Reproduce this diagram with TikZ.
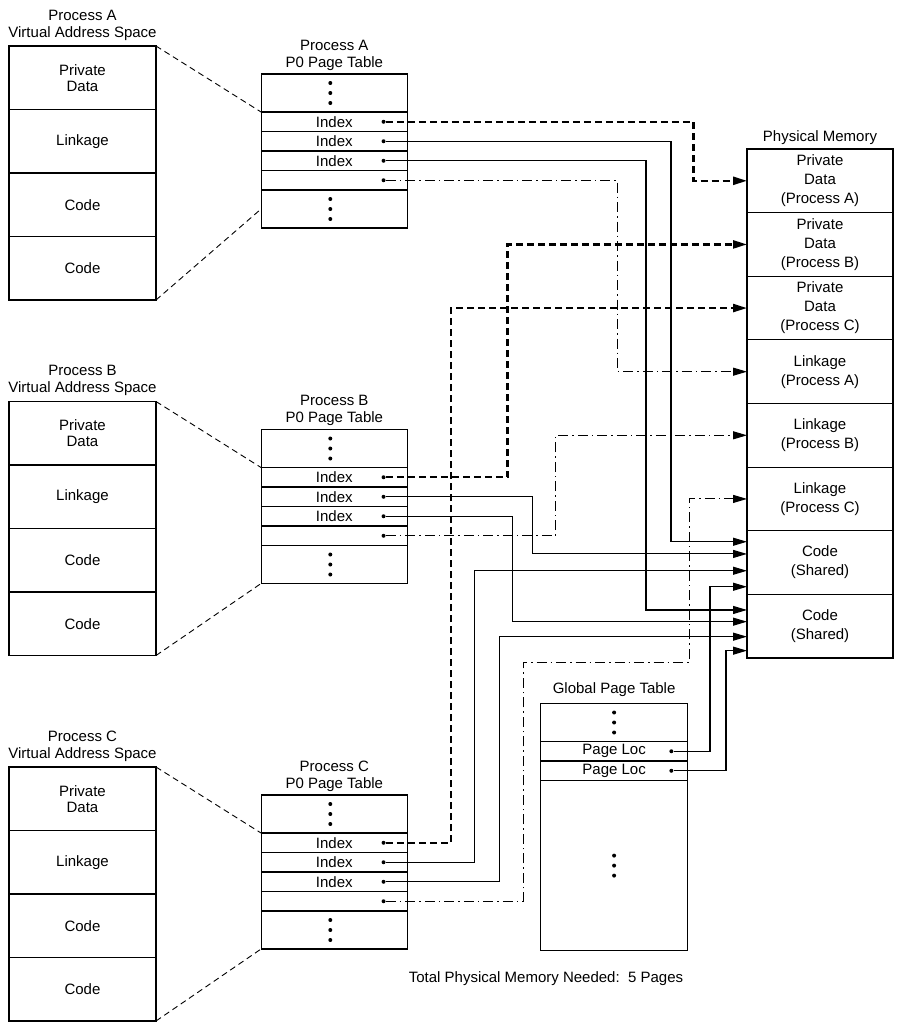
\documentclass[tikz,border=0pt]{standalone}
\usepackage{fontspec}
\setmainfont{Liberation Sans}
\usetikzlibrary{arrows.meta, positioning}

\tikzset{
  box/.style={draw, line width=1.1pt, outer sep=0pt, inner sep=2pt, align=center},
  vasbox/.style={box, minimum width=147pt, minimum height=63.5pt, font=\fontsize{15}{16}\selectfont},
  membox/.style={box, minimum width=146pt, minimum height=63.625pt, font=\fontsize{15}{19}\selectfont},
  tabsec/.style={box, minimum width=146.5pt, minimum height=38pt},
  tabrow/.style={box, minimum width=146.5pt, minimum height=19.5pt, inner sep=0pt},
  title/.style={inner sep=0pt, align=center, font=\fontsize{15}{17}\selectfont},
  dot/.style={circle, fill, inner sep=0pt, minimum size=4pt},
  zoomline/.style={line width=0.9pt, dash pattern=on 6pt off 4pt},
  pdata/.style={line width=2.4pt, dash pattern=on 7pt off 4pt, -{Triangle[length=14pt,width=8pt]}},
  pcode/.style={line width=1.1pt, -{Triangle[length=14pt,width=8pt]}},
  plink/.style={line width=1pt, dash pattern=on 10pt off 4pt on 1.5pt off 4pt, -{Triangle[length=14pt,width=8pt]}},
}

\begin{document}
\begin{tikzpicture}[x=1pt, y=-1pt, font=\fontsize{15}{17}\selectfont]
    \useasboundingbox (0,0) rectangle (902,1026);

    % Three processes: address space and P0 page table
    \foreach \p/\off/\anc in {A/0/west, B/355.5/south west, C/721/south west}{
      \begin{scope}[shift={(0,\off)}]
        \node[vasbox] (vas\p1) at (82.5,77.75) {Private\\Data};
        \node[vasbox, below=0pt of vas\p1] (vas\p2) {Linkage};
        \node[vasbox, below=0pt of vas\p2] (vas\p3) {Code};
        \node[vasbox, below=0pt of vas\p3] (vas\p4) {Code};
        \node[title, above=5.4pt of vas\p1] (vt\p) {Process \p\\Virtual Address Space};

        \node[tabsec] (pt\p0) at (334.3,93) {};
        \node[tabrow, below=0pt of pt\p0] (pt\p1) {Index};
        \node[tabrow, below=0pt of pt\p1] (pt\p2) {Index};
        \node[tabrow, below=0pt of pt\p2] (pt\p3) {Index};
        \node[tabrow, below=0pt of pt\p3] (pt\p4) {};
        \node[tabsec, below=0pt of pt\p4] (pt\p5) {};
        \node[title, above=3.4pt of pt\p0] (tt\p) {Process \p\\P0 Page Table};
        \foreach \s in {0,5}
          \foreach \d in {-10,0,10}
            \fill ([xshift=-4pt, yshift=\d pt]pt\p\s.center) circle (2pt);
        \foreach \r in {1,...,4}
          \node[dot] (d\p\r) at ([xshift=-24pt]pt\p\r.east) {};

        \draw[zoomline] (vas\p1.north east) -- (pt\p1.north west);
        \draw[zoomline] (vas\p4.south east) -- (pt\p5.\anc);
      \end{scope}
    }

    % Physical memory
    \node[membox] (pm1) at (820,180.8) {Private\\Data\\(Process A)};
    \node[membox, below=0pt of pm1] (pm2) {Private\\Data\\(Process B)};
    \node[membox, below=0pt of pm2] (pm3) {Private\\Data\\(Process C)};
    \node[membox, below=0pt of pm3] (pm4) {Linkage\\(Process A)};
    \node[membox, below=0pt of pm4] (pm5) {Linkage\\(Process B)};
    \node[membox, below=0pt of pm5] (pm6) {Linkage\\(Process C)};
    \node[membox, below=0pt of pm6] (pm7) {Code\\(Shared)};
    \node[membox, below=0pt of pm7] (pm8) {Code\\(Shared)};
    \node[title, above=4.4pt of pm1] (pmt) {Physical Memory};

    % Arrow ends on the shared code pages
    \coordinate (in7a) at ([yshift=-11pt]pm7.north west);
    \coordinate (in7b) at ([yshift=-23.2pt]pm7.north west);
    \coordinate (in7c) at ([yshift=-40pt]pm7.north west);
    \coordinate (in7d) at ([yshift=-56pt]pm7.north west);
    \coordinate (in8a) at ([yshift=-15.6pt]pm8.north west);
    \coordinate (in8b) at ([yshift=-27.3pt]pm8.north west);
    \coordinate (in8c) at ([yshift=-42.3pt]pm8.north west);
    \coordinate (in8d) at ([yshift=-56.3pt]pm8.north west);

    % Global page table
    \node[tabsec] (g0) at (614.1,722.5) {};
    \node[tabrow, below=0pt of g0] (g1) {Page Loc};
    \node[tabrow, below=0pt of g1] (g2) {Page Loc};
    \node[tabsec, minimum height=170.2pt, below=0pt of g2] (g3) {};
    \node[title, above=6.5pt of g0] (gt) {Global Page Table};
    \foreach \s in {0,3}
      \foreach \d in {-10,0,10}
        \fill ([yshift=\d pt]g\s.center) circle (2pt);
    \node[dot] (gd1) at ([xshift=-16pt]g1.east) {};
    \node[dot] (gd2) at ([xshift=-16pt]g2.east) {};

    % Private data
    \draw[pdata] (dA1) -| ([xshift=-53.7pt]pm1.west) -- (pm1.west);
    \draw[pdata] (dB1) -| ([xshift=-239.7pt]pm2.west) -- (pm2.west);
    \draw[pdata] (dC1) -| ([xshift=-296pt]pm3.west) -- (pm3.west);

    % Shared code
    \draw[pcode] (dA2) -| ([xshift=-76pt]in7a) -- (in7a);
    \draw[pcode] (dB2) -| ([xshift=-214.7pt]in7b) -- (in7b);
    \draw[pcode] (dC2) -| ([xshift=-272.5pt]in7c) -- (in7c);
    \draw[pcode] (gd1) -| ([xshift=-37pt]in7d) -- (in7d);
    \draw[pcode] (dA3) -| ([xshift=-101pt]in8a) -- (in8a);
    \draw[pcode] (dB3) -| ([xshift=-234.3pt]in8b) -- (in8b);
    \draw[pcode] (dC3) -| ([xshift=-247.7pt]in8c) -- (in8c);
    \draw[pcode] (gd2) -| ([xshift=-21pt]in8d) -- (in8d);

    % Linkage
    \draw[plink] (dA4) -| ([xshift=-129.7pt]pm4.west) -- (pm4.west);
    \draw[plink] (dB4) -| ([xshift=-191.3pt]pm5.west) -- (pm5.west);
    \draw[plink] (dC4) -| (523.3,662) -| ([xshift=-58pt]pm6.west) -- (pm6.west);

    \node[title] (total) at (546,978.3) {Total Physical Memory Needed:\ \ 5 Pages};
\end{tikzpicture}
\end{document}
